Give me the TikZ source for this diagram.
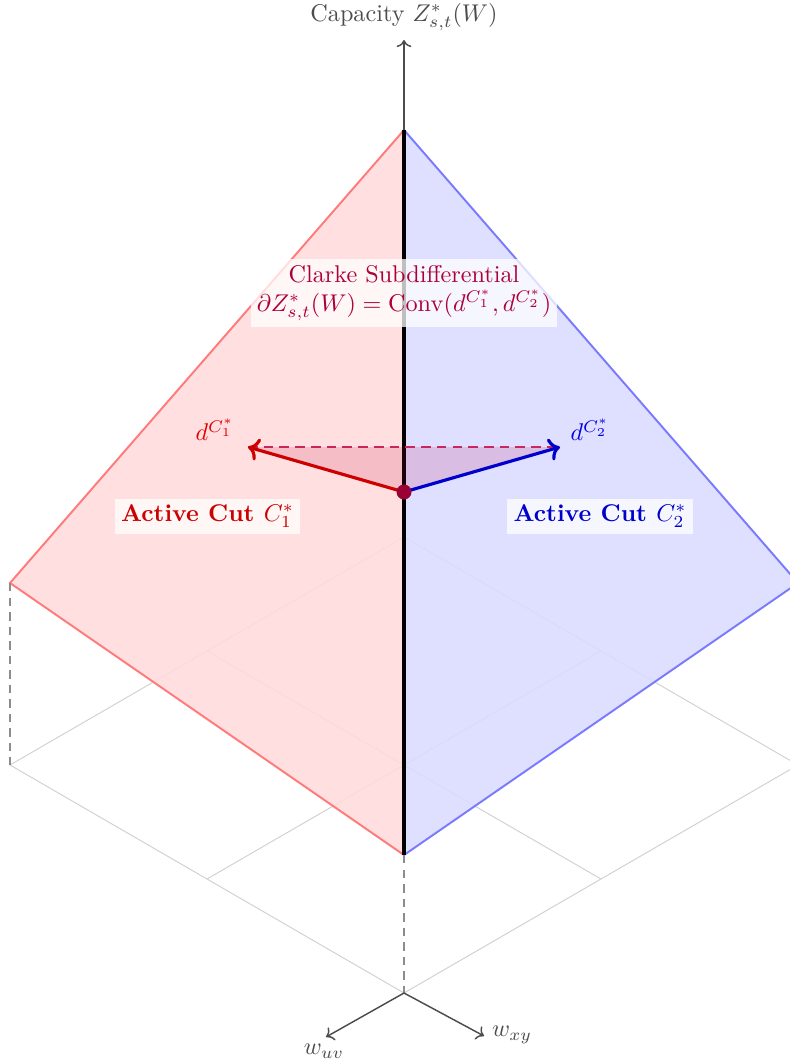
\documentclass[tikz,border=0pt]{standalone}
\usetikzlibrary{arrows.meta}
\begin{document}
\begin{tikzpicture}[x=0.4132pt,y=-0.4132pt,
  gridline/.style={draw=black!18, line width=0.4pt},
  axisline/.style={draw=black!70, semithick, ->},
  dropline/.style={draw=black!45, thick, dash pattern=on 3.5pt off 2.5pt},
  faceedge/.style={line width=0.8pt},
  labelbox/.style={fill=white, fill opacity=0.75, text opacity=1, inner sep=2.5pt},
  vec/.style={->, line width=1.3pt}
]
\useasboundingbox (0,0) rectangle (789,1063);
% grid points
\coordinate (O) at (404,993);
\coordinate (L) at (10,765);
\coordinate (R) at (798,765);
\coordinate (T) at (404,537);
\coordinate (OL) at (207,879);
\coordinate (OR) at (601,879);
\coordinate (LT) at (207,651);
\coordinate (RT) at (601,651);
% pyramid
\coordinate (A) at (404,130);
\coordinate (PL) at (10,583);
\coordinate (PR) at (798,583);
\coordinate (PB) at (404,855);
% vectors
\coordinate (C) at (404,492);
\coordinate (D1) at (248,447);
\coordinate (D2) at (560,447);
% axis tips
\coordinate (ztip) at (404,40);
\coordinate (uvtip) at (326,1037);
\coordinate (xytip) at (484,1036);

% grid
\draw[gridline] (O) -- (L) -- (T) -- (R) -- cycle;
\draw[gridline] (OL) -- (RT);
\draw[gridline] (OR) -- (LT);

% faces
\fill[red!14, fill opacity=0.9] (A) -- (PL) -- (PB) -- cycle;
\fill[blue!14, fill opacity=0.9] (A) -- (PR) -- (PB) -- cycle;
\draw[faceedge, red!52] (A) -- (PL) -- (PB);
\draw[faceedge, blue!52] (A) -- (PR) -- (PB);

% drop lines
\draw[dropline] (PL) -- (L);
\draw[dropline] (PB) -- (O);

% ridge
\draw[black, line width=1.4pt] (A) -- (PB);

% axes
\draw[axisline] (A) -- (ztip);
\draw[axisline] (O) -- (uvtip);
\draw[axisline] (O) -- (xytip);
\node[text=black!70] (zlab) at (404,17) {Capacity $Z^*_{s,t}(W)$};
\node[text=black!70] (uvlab) at (324,1051) {$w_{uv}$};
\node[text=black!70] (xylab) at (512,1035) {$w_{xy}$};

% subdifferential triangle
\fill[purple, fill opacity=0.15] (C) -- (D1) -- (D2) -- cycle;
\draw[purple!85, thick, dash pattern=on 4pt off 2.5pt] (D1) -- (D2);
\draw[vec, red!80!black] (C) -- (D1);
\draw[vec, blue!80!black] (C) -- (D2);
\fill[purple!80!black] (C) circle (7.5);

% labels
\node[text=red!90!black] (d1lab) at (215,430) {$d^{C_1^*}$};
\node[text=blue!90!black] (d2lab) at (590,430) {$d^{C_2^*}$};
\node[labelbox, text=red!80!black, font=\bfseries] (cut1) at (207.5,516) {Active Cut $C_1^*$};
\node[labelbox, text=blue!80!black, font=\bfseries] (cut2) at (600,516) {Active Cut $C_2^*$};
\node[labelbox, text=purple!90!black, align=center] (clarke) at (404,293) {Clarke Subdifferential\\$\partial Z^*_{s,t}(W)=\mathrm{Conv}(d^{C_1^*},d^{C_2^*})$};
\end{tikzpicture}
\end{document}
